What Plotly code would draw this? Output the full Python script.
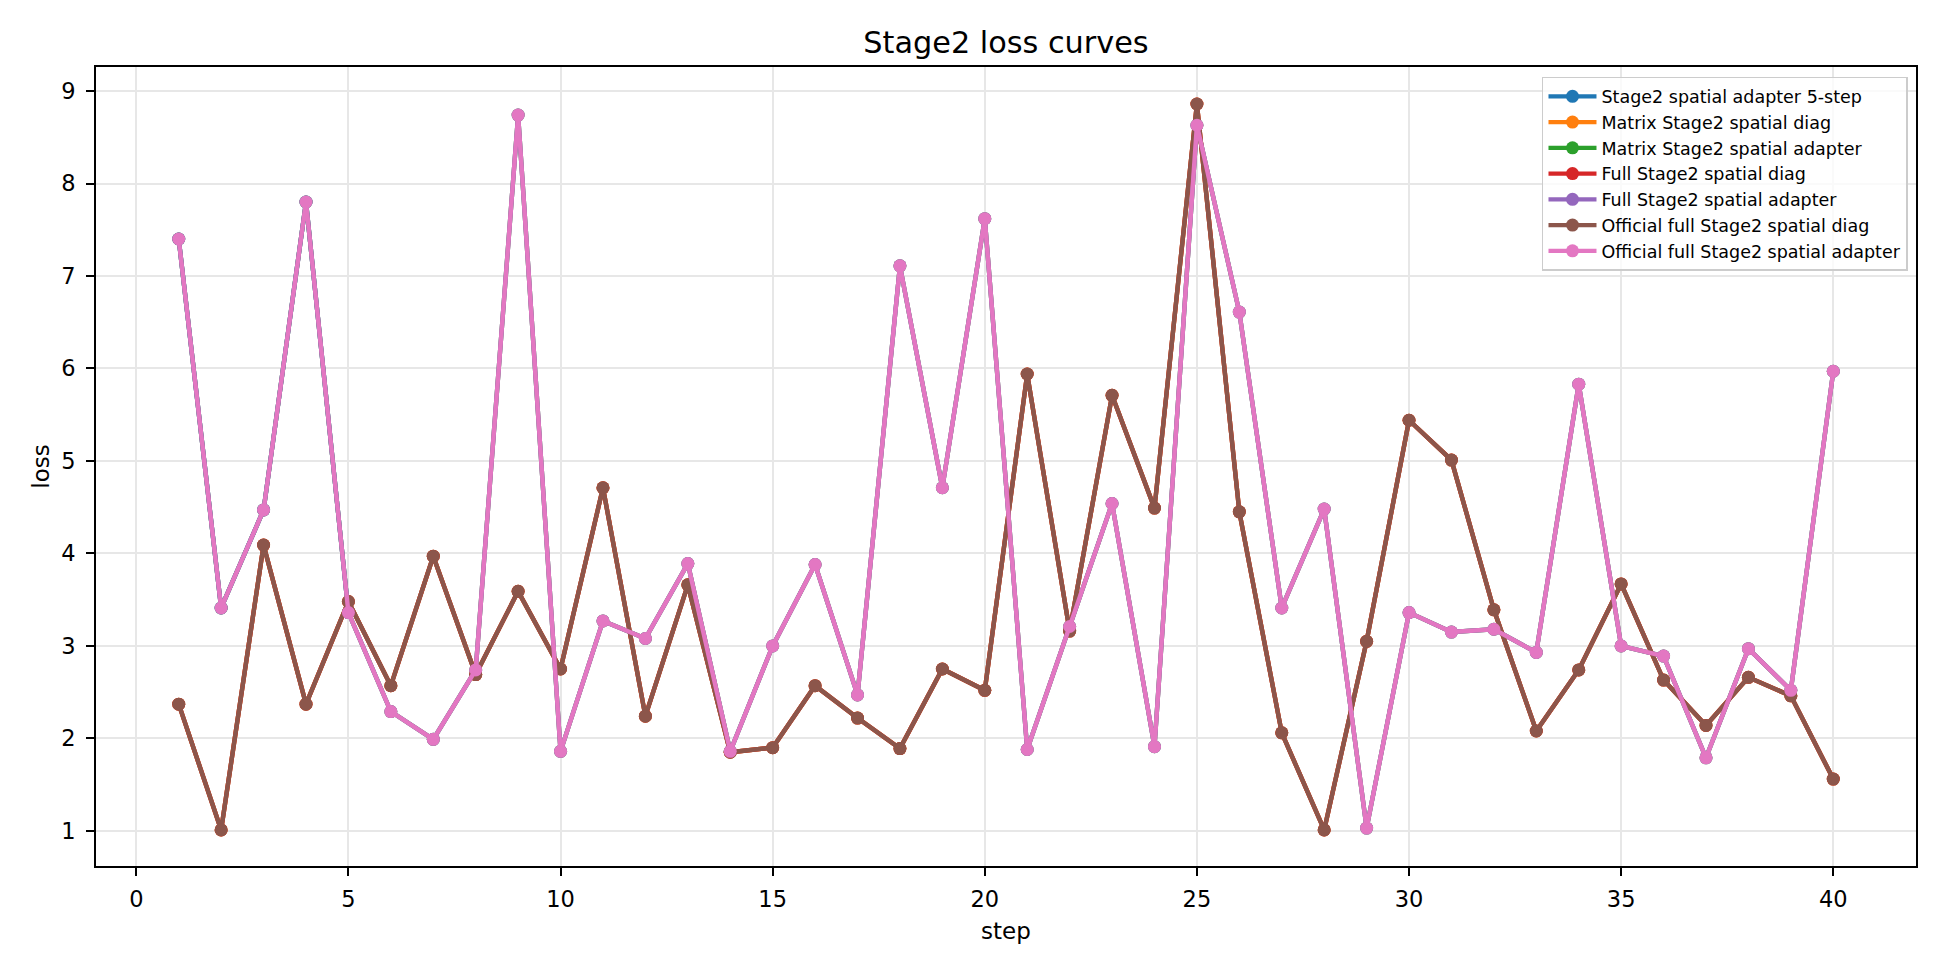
import plotly.graph_objects as go

steps = list(range(1, 41))

official_adapter = [7.40, 3.41, 4.47, 7.80, 3.36, 2.29, 1.99, 2.74, 8.74, 1.86,
                    3.27, 3.08, 3.89, 1.86, 3.00, 3.88, 2.47, 7.11, 4.71, 7.62,
                    1.88, 3.21, 4.54, 1.91, 8.63, 6.61, 3.41, 4.48, 1.03, 3.36,
                    3.15, 3.18, 2.93, 5.83, 3.00, 2.89, 1.79, 2.97, 2.52, 5.97]

official_diag = [2.37, 1.01, 4.09, 2.37, 3.48, 2.57, 3.97, 2.69, 3.59, 2.75,
                 4.71, 2.24, 3.66, 1.85, 1.90, 2.57, 2.22, 1.89, 2.75, 2.52,
                 5.94, 3.16, 5.71, 4.49, 8.86, 4.45, 2.06, 1.01, 3.05, 5.44,
                 5.01, 3.39, 2.08, 2.74, 3.67, 2.63, 2.14, 2.66, 2.46, 1.56]

adapter_5step_steps = [1, 2, 3, 4, 5]
adapter_5step = [7.40, 3.41, 4.47, 7.80, 3.36]

matrix_diag = official_diag
matrix_adapter = official_adapter
full_diag = official_diag
full_adapter = official_adapter

series = [
    ("Stage2 spatial adapter 5-step", adapter_5step_steps, adapter_5step, "#1f77b4"),
    ("Matrix Stage2 spatial diag", steps, matrix_diag, "#ff7f0e"),
    ("Matrix Stage2 spatial adapter", steps, matrix_adapter, "#2ca02c"),
    ("Full Stage2 spatial diag", steps, full_diag, "#d62728"),
    ("Full Stage2 spatial adapter", steps, full_adapter, "#9467bd"),
    ("Official full Stage2 spatial diag", steps, official_diag, "#8c564b"),
    ("Official full Stage2 spatial adapter", steps, official_adapter, "#e377c2"),
]

FONT = "DejaVu Sans"

fig = go.Figure()
for i, (name, xs, ys, color) in enumerate(series):
    fig.add_trace(go.Scatter(
        x=xs, y=ys, name=name, mode="lines+markers",
        line=dict(color=color, width=4.4),
        marker=dict(color=color, size=13),
    ))

axis_common = dict(
    showline=True, linecolor="black", linewidth=1.8, mirror=True,
    ticks="outside", ticklen=8, tickwidth=1.8, tickcolor="black",
    showgrid=True, gridcolor="#e7e7e7", gridwidth=1.8,
    zeroline=False,
    tickfont=dict(family=FONT, size=22.5, color="black"),
)

fig.update_layout(
    width=1944, height=972,
    paper_bgcolor="white", plot_bgcolor="white",
    margin=dict(l=96, r=28, t=67, b=106, autoexpand=False),
    font=dict(family=FONT, color="black"),
    title=dict(text="Stage2 loss curves", x=0.5, xanchor="center", xref="paper",
               y=1 - 42 / 972, yanchor="middle", yref="container",
               font=dict(family=FONT, size=30.3, color="black")),
    xaxis=dict(range=[-0.95, 41.95], tickmode="array",
               tickvals=[0, 5, 10, 15, 20, 25, 30, 35, 40],
               title=dict(text="step", standoff=12,
                          font=dict(family=FONT, size=23, color="black")),
               ticklabelstandoff=4,
               **axis_common),
    yaxis=dict(range=[0.62, 9.26], tickmode="array",
               tickvals=[1, 2, 3, 4, 5, 6, 7, 8, 9],
               title=dict(text="loss", standoff=5,
                          font=dict(family=FONT, size=23, color="black")),
               ticklabelstandoff=6,
               **axis_common),
    legend=dict(x=0.9956, y=0.9875, xanchor="right", yanchor="top",
                bgcolor="rgba(255,255,255,0.8)", bordercolor="#cccccc",
                borderwidth=1.5, itemwidth=48,
                font=dict(family=FONT, size=17.5, color="black")),
    showlegend=True,
)

fig.write_html("out.html")
